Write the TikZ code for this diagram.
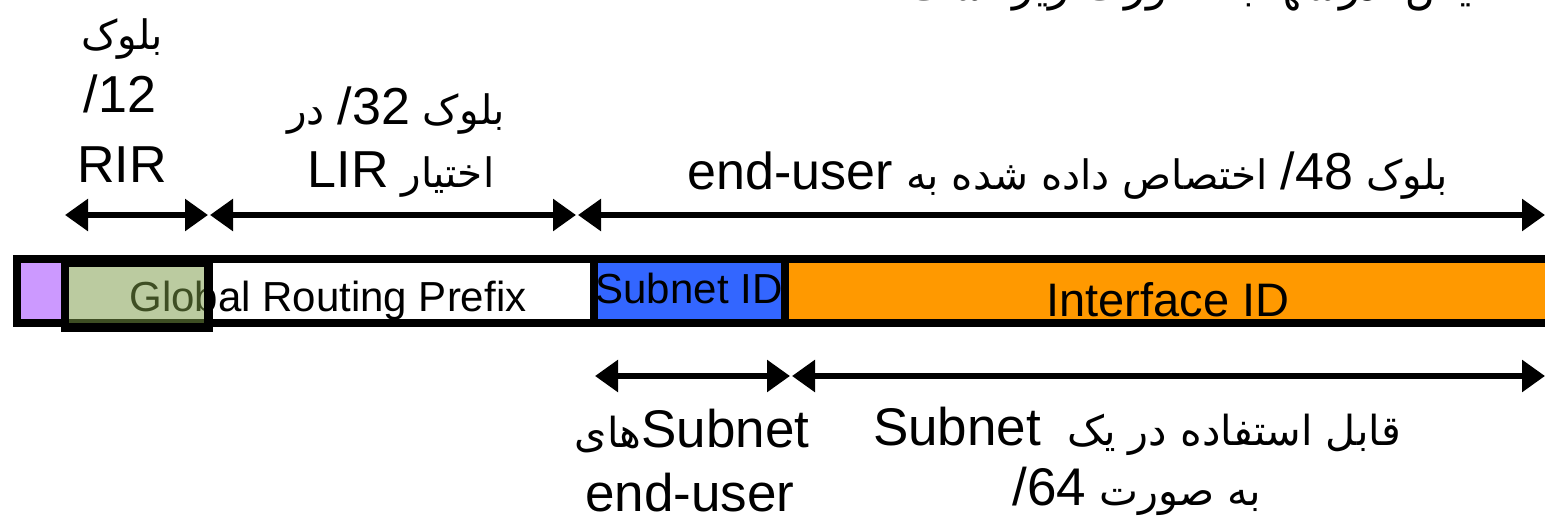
\documentclass[tikz,border=0pt]{standalone}
\usepackage{fontspec}
\setmainfont{Liberation Sans}
\newfontfamily\fa[Script=Arabic,Scale=0.78]{DejaVu Sans}
\newfontfamily\la{Liberation Sans}
\TeXXeTstate=1
\usetikzlibrary{arrows.meta}

\definecolor{rirpurple}{HTML}{CC99FF}
\definecolor{subnetblue}{HTML}{3366FF}
\definecolor{ifaceorange}{HTML}{FF9900}
\definecolor{rirgreen}{HTML}{7A9A46}

\tikzset{
  lbl/.style={inner sep=0pt, anchor=base, font=\fontsize{52}{60}\selectfont},
  lblbig/.style={inner sep=0pt, anchor=base, font=\fontsize{53}{60}\selectfont},
  celltext/.style={inner sep=0pt, anchor=base, font=\fontsize{42}{48}\selectfont},
  span/.style={line width=6pt, {Triangle[length=23pt,width=31pt]}-{Triangle[length=23pt,width=31pt]}},
  border/.style={line width=8pt},
}

\begin{document}
\begin{tikzpicture}[x=1pt,y=-1pt]
\useasboundingbox (0,0) rectangle (1545,519);
\clip (0,0) rectangle (1545,519);

% heading line running off the top edge
\node[lbl, anchor=base west, font=\fontsize{56}{60}\selectfont] (head) at (893,1)
  {\fa\beginR تخصیص آدرسها به صورت زیر است.\endR};

% labels above the address
\node[lbl] (rirA) at (122,50) {\fa\beginR بلوک\endR};
\node[lbl] (rirB) at (120,112) {/12};
\node[lbl] (rirC) at (122,182) {RIR};

\node[lbl] (lirA) at (396,124) {\fa\beginR بلوک \beginL{\la /32}\endL{} در\endR};
\node[lbl] (lirB) at (401,187) {\fa\beginR اختیار \beginL{\la LIR}\endL\endR};

\node[lbl] (euA) at (1068,189)
  {\fa\beginR بلوک \beginL{\la /48}\endL{} اختصاص داده شده به \beginL{\la end-user}\endL\endR};

% span arrows above the address
\coordinate (t0) at (65,215);
\coordinate (t1) at (208,215);
\coordinate (t2) at (210,215);
\coordinate (t3) at (576,215);
\coordinate (t4) at (578,215);
\coordinate (t5) at (1545,215);
\draw[span] (t0) -- (t1);
\draw[span] (t2) -- (t3);
\draw[span] (t4) -- (t5);

% address fields
\fill[rirpurple] (17,259) rectangle (65,323);
\fill[white] (65,259) rectangle (593,323);
\fill[subnetblue] (593,259) rectangle (785,323);
\fill[ifaceorange] (785,259) rectangle (1560,323);

\node[celltext] (grp) at (328,311) {Global Routing Prefix};
\node[celltext] (sid) at (689,303) {Subnet ID};
\node[celltext, font=\fontsize{47}{54}\selectfont] (iid) at (1168,316) {Interface ID};

\draw[border] (17,259) rectangle (1580,323);
\draw[border] (593.5,259) -- (593.5,323);
\draw[border] (785,259) -- (785,323);

% /12 RIR block laid over the prefix
\draw[border, line width=8.5pt, fill=rirgreen, fill opacity=0.51]
  (65,262.5) rectangle (208.5,327.5);

% span arrows below the address
\coordinate (b0) at (595,376);
\coordinate (b1) at (790,376);
\coordinate (b2) at (792,376);
\coordinate (b3) at (1545,376);
\draw[span] (b0) -- (b1);
\draw[span] (b2) -- (b3);

% labels below the address
\node[lblbig] (snA) at (692,447) {\fa\beginR\beginL{\la Subnet}\endL های\endR};
\node[lblbig] (snB) at (690,511) {end-user};

\node[lblbig] (ifA) at (1137,445)
  {\fa\beginR قابل استفاده در یک \ \beginL{\la Subnet}\endL\endR};
\node[lblbig] (ifB) at (1137,505) {\fa\beginR به صورت \beginL{\la /64}\endL\endR};
\end{tikzpicture}
\end{document}
